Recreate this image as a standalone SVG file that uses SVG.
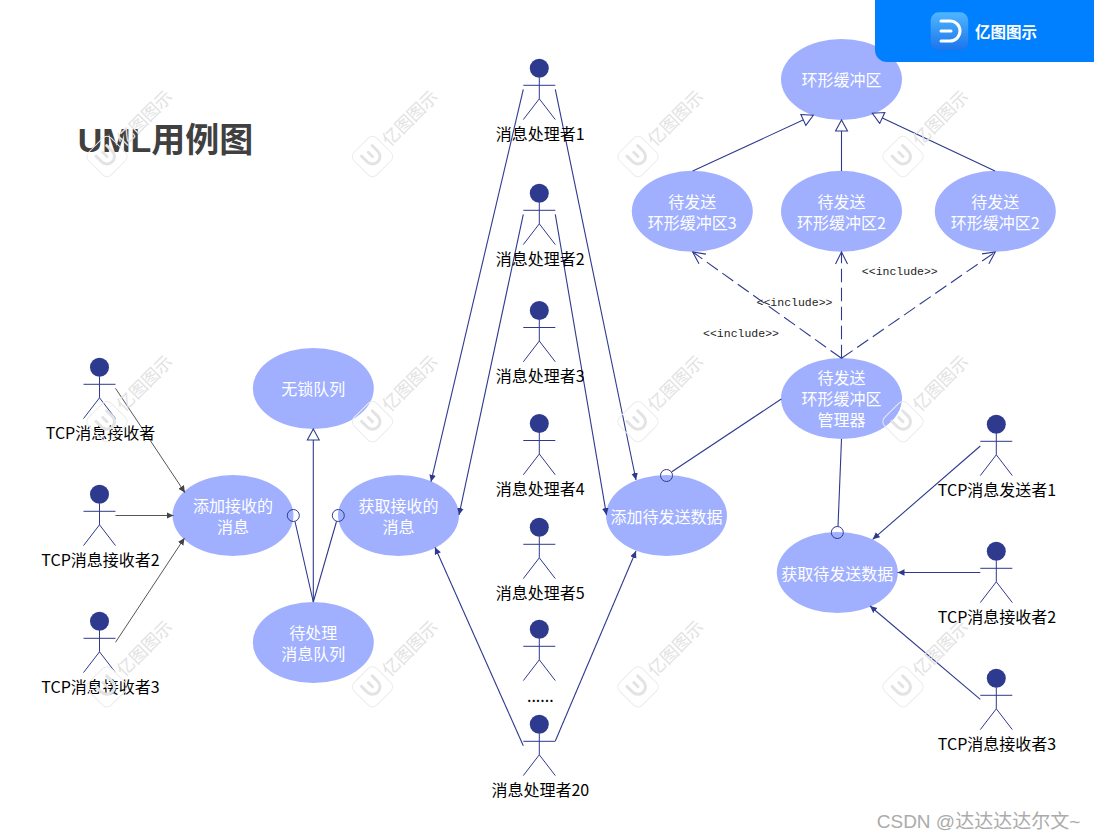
<svg xmlns="http://www.w3.org/2000/svg" width="1094" height="840" viewBox="0 0 1094 840">
<style>
text{font-family:"Noto Sans CJK SC","Liberation Sans",sans-serif;font-size:16px;text-anchor:middle}
.uc{fill:#a0b0ff}
.w{fill:#fff}
.k{fill:#000}
.l{fill:none;stroke:#2e3a8e;stroke-width:1.1}
.g{fill:none;stroke:#555;stroke-width:1}
.c{fill:none;stroke:#2e3a8e;stroke-width:1}
.d{fill:none;stroke:#2e3a8e;stroke-width:1.1;stroke-dasharray:13.5 5.5}
.a{marker-end:url(#fill)}
.ga{marker-end:url(#fillg)}
.h{marker-end:url(#hollow)}
.o{marker-end:url(#open)}
.inc{font-family:"Liberation Mono",monospace;font-size:11.5px;fill:#222}
.wm{font-size:17.500px;fill:#e2e2e2}
</style>
<defs>
<linearGradient id="logo" x1="0" y1="0" x2="0" y2="1"><stop offset="0" stop-color="#4fb6ff"/><stop offset="1" stop-color="#1c74ec"/></linearGradient>
<marker id="fill" markerUnits="userSpaceOnUse" markerWidth="8" markerHeight="8" viewBox="0 0 8 8" refX="7" refY="4" orient="auto"><path d="M0 0.7L7 4L0 7.3Z" fill="#2e3a8e"/></marker>
<marker id="fillg" markerUnits="userSpaceOnUse" markerWidth="8" markerHeight="8" viewBox="0 0 8 8" refX="7" refY="4" orient="auto"><path d="M0 0.7L7 4L0 7.3Z" fill="#444"/></marker>
<marker id="hollow" markerUnits="userSpaceOnUse" markerWidth="14" markerHeight="14" viewBox="0 0 14 14" refX="12.5" refY="7" orient="auto"><path d="M1.5 1L12.5 7L1.5 13Z" fill="#fff" stroke="#2e3a8e" stroke-width="1.1"/></marker>
<marker id="open" markerUnits="userSpaceOnUse" markerWidth="14" markerHeight="14" viewBox="0 0 14 14" refX="13" refY="7" orient="auto"><path d="M1 1L13 7L1 13" fill="none" stroke="#2e3a8e" stroke-width="1.1"/></marker>
<g id="actor">
<circle cx="0" cy="0" r="9.500" fill="#2e3a8e"/>
<path class="c" d="M-16 17H16M0 9V30.500M-16 51.300L0 30.500L16 51.300"/>
</g>
<g id="mark">
<rect x="-16" y="-16" width="32" height="32" rx="6" fill="none" stroke="#ececec" stroke-width="1" transform="rotate(45)"/>
<path d="M-8 -7.500H0A7.500 7.500 0 0 1 0 7.500H-8M-6 0H0" fill="none" stroke="#e3e3e3" stroke-width="3" stroke-linecap="round" transform="rotate(45)"/>
<text class="wm" x="0" y="0" transform="translate(42 -34) rotate(-45)">亿图图示</text>
</g>
</defs>
<rect width="1094" height="840" fill="#fff"/>
<text id="title" x="165.500" y="152" style="font-size:34px;font-weight:700;fill:#404040;font-family:'Liberation Sans','Noto Sans CJK SC',sans-serif">UML用例图</text>

<g id="n-lockfree"><ellipse class="uc" cx="313.300" cy="388.500" rx="60.500" ry="40.500"/><text class="w" x="313.300" y="394.500">无锁队列</text></g>
<g id="n-addrecv"><ellipse class="uc" cx="233" cy="515.500" rx="60.500" ry="40.500"/><text class="w" x="233" y="512">添加接收的</text><text class="w" x="233" y="532.500">消息</text></g>
<g id="n-getrecv"><ellipse class="uc" cx="398.500" cy="515.500" rx="60.500" ry="40.500"/><text class="w" x="398.500" y="512">获取接收的</text><text class="w" x="398.500" y="532.500">消息</text></g>
<g id="n-pending"><ellipse class="uc" cx="313.300" cy="642.500" rx="60.500" ry="40.500"/><text class="w" x="313.300" y="639">待处理</text><text class="w" x="313.300" y="659.500">消息队列</text></g>
<g id="n-ring"><ellipse class="uc" cx="841.500" cy="79.500" rx="60.500" ry="40.500"/><text class="w" x="841.500" y="86">环形缓冲区</text></g>
<g id="n-send3"><ellipse class="uc" cx="692.300" cy="211.300" rx="60.500" ry="40.500"/><text class="w" x="692.300" y="208">待发送</text><text class="w" x="692.300" y="228.500">环形缓冲区3</text></g>
<g id="n-send2a"><ellipse class="uc" cx="841.500" cy="211.300" rx="60.500" ry="40.500"/><text class="w" x="841.500" y="208">待发送</text><text class="w" x="841.500" y="228.500">环形缓冲区2</text></g>
<g id="n-send2b"><ellipse class="uc" cx="995.300" cy="211.300" rx="60.500" ry="40.500"/><text class="w" x="995.300" y="208">待发送</text><text class="w" x="995.300" y="228.500">环形缓冲区2</text></g>
<g id="n-manager"><ellipse class="uc" cx="841.500" cy="398.500" rx="60.500" ry="40.500"/><text class="w" x="841.500" y="384">待发送</text><text class="w" x="841.500" y="405">环形缓冲区</text><text class="w" x="841.500" y="426">管理器</text></g>
<g id="n-addsend"><ellipse class="uc" cx="666.500" cy="515.500" rx="60.500" ry="40.500"/><text class="w" x="666.500" y="522.500">添加待发送数据</text></g>
<g id="n-getsend"><ellipse class="uc" cx="837.300" cy="572.500" rx="60.500" ry="40.500"/><text class="w" x="837.300" y="579.500">获取待发送数据</text></g>

<g id="connectors">
<path class="g ga" d="M115.500 388.300L185 492.700"/>
<path class="g ga" d="M115.500 515.500H173.500"/>
<path class="g ga" d="M115.500 642.300L184.500 538"/>
<path class="l h" d="M313.300 602V429"/>
<circle class="c" cx="293.300" cy="515.500" r="6"/>
<circle class="c" cx="338.300" cy="515.500" r="6"/>
<path class="l" d="M295 521.500L313.300 602L336.500 521.500"/>
<path class="l a" d="M523.300 89.300L431 481.700"/>
<path class="l a" d="M555.300 89.300L636 480"/>
<path class="l a" d="M523.300 214.300L459 515"/>
<path class="l a" d="M555.300 214.300L606.500 515"/>
<path class="l a" d="M523.300 745.700L435 547.300"/>
<path class="l a" d="M555.300 741L636 551"/>
<path class="l" d="M781.300 399L671.800 471.800"/>
<circle class="c" cx="666.500" cy="475.500" r="6"/>
<path class="l" d="M841.500 439L838 526.500"/>
<circle class="c" cx="837.300" cy="532.500" r="6"/>
<path class="l a" d="M980.300 446L872.700 539.300"/>
<path class="l a" d="M980.300 572.500H897.500"/>
<path class="l a" d="M980.300 699.300L870 606"/>
<path class="l h" d="M692.700 171L813.300 115.300"/>
<path class="l h" d="M841.500 171V120"/>
<path class="l h" d="M995 171L872.300 113.300"/>
<path class="d o" d="M841.500 358.300L692.700 252"/>
<path class="d o" d="M841.500 358.300V252"/>
<path class="d o" d="M841.500 358.300L995.300 252"/>
<text class="inc" x="899.800" y="275">&lt;&lt;include&gt;&gt;</text>
<text class="inc" x="794.500" y="305.500">&lt;&lt;include&gt;&gt;</text>
<text class="inc" x="741" y="336.500">&lt;&lt;include&gt;&gt;</text>
</g>

<g id="a-recv1"><use href="#actor" x="99.500" y="367.300"/><text class="k" x="100.500" y="438.500">TCP消息接收者</text></g>
<g id="a-recv2"><use href="#actor" x="99.500" y="494.300"/><text class="k" x="100.500" y="565.500">TCP消息接收者2</text></g>
<g id="a-recv3"><use href="#actor" x="99.500" y="621.300"/><text class="k" x="100.500" y="692.500">TCP消息接收者3</text></g>
<g id="a-proc1"><use href="#actor" x="539.300" y="68.300"/><text class="k" x="540.300" y="140">消息处理者1</text></g>
<g id="a-proc2"><use href="#actor" x="539.300" y="193.300"/><text class="k" x="540.300" y="265">消息处理者2</text></g>
<g id="a-proc3"><use href="#actor" x="539.300" y="310.500"/><text class="k" x="540.300" y="382">消息处理者3</text></g>
<g id="a-proc4"><use href="#actor" x="539.300" y="423.500"/><text class="k" x="540.300" y="495">消息处理者4</text></g>
<g id="a-proc5"><use href="#actor" x="539.300" y="527.300"/><text class="k" x="540.300" y="599">消息处理者5</text></g>
<g id="a-procn"><use href="#actor" x="539.300" y="629.300"/><text class="k" x="540.300" y="702">......</text></g>
<g id="a-proc20"><use href="#actor" x="539.300" y="724.300"/><text class="k" x="540.300" y="796">消息处理者20</text></g>
<g id="a-send1"><use href="#actor" x="996.300" y="424.300"/><text class="k" x="997" y="496">TCP消息发送者1</text></g>
<g id="a-send2"><use href="#actor" x="996.300" y="551.300"/><text class="k" x="997" y="623">TCP消息接收者2</text></g>
<g id="a-send3"><use href="#actor" x="996.300" y="678.300"/><text class="k" x="997" y="750">TCP消息接收者3</text></g>

<g id="watermark">
<use href="#mark" x="107" y="156.500"/><use href="#mark" x="372.500" y="156.500"/><use href="#mark" x="638" y="156.500"/><use href="#mark" x="903" y="156.500"/>
<use href="#mark" x="107" y="421.700"/><use href="#mark" x="372.500" y="421.700"/><use href="#mark" x="638" y="421.700"/><use href="#mark" x="903" y="421.700"/>
<use href="#mark" x="107" y="686.800"/><use href="#mark" x="372.500" y="686.800"/><use href="#mark" x="638" y="686.800"/><use href="#mark" x="903" y="686.800"/>
</g>

<g id="banner">
<path d="M875 0H1094V62H887A12 12 0 0 1 875 50Z" fill="#0080ff"/>
<rect x="930.700" y="12.300" width="37.500" height="38" rx="8" fill="url(#logo)"/>
<path d="M941 21H950A10 10 0 0 1 950 41H941M941 31H951" fill="none" stroke="#fff" stroke-width="3" stroke-linecap="round"/>
<text x="1006" y="38" style="font-size:15.500px;font-weight:700;fill:#fff">亿图图示</text>
</g>
<text id="credit" x="978.500" y="828" style="font-size:19px;fill:#ababab;font-family:'Liberation Sans','Noto Sans CJK SC',sans-serif">CSDN @达达达达尔文~</text>
</svg>
